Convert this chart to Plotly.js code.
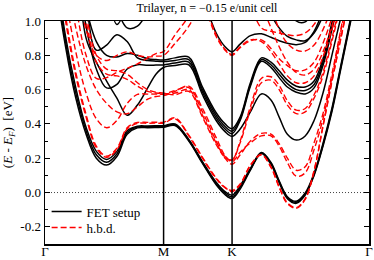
<!DOCTYPE html>
<html><head><meta charset="utf-8">
<script src="https://cdn.plot.ly/plotly-3.0.1.min.js"></script>
<style>html,body{margin:0;padding:0;background:#fff}#chart{width:374px;height:260px}</style>
</head><body><div id="chart"></div>
<script>
// k-path (Γ=0, M=1.732, K=2.732, Γ=4.732)
const kPath = [0,0.15,0.3,0.45,0.6,0.75,0.9,1.05,1.2,1.35,1.5,1.62,1.732,
  1.9,2.1,2.3,2.5,2.63,2.732,
  2.85,3.0,3.16,3.3,3.42,3.54,3.67,3.8,3.93,4.06,4.19,4.32,4.45,4.58,4.732];
const symPoints = [0, 1.732, 2.732, 4.732];
const symLabels = ['Γ','M','K','Γ'];
const yTickVals = [-0.2,0,0.2,0.4,0.6,0.8,1.0];
const yTickText = ['-0.2','0.0','0.2','0.4','0.6','0.8','1.0'];
const yMinorVals = [-0.3,-0.1,0.1,0.3,0.5,0.7,0.9];
const fermiLevel = 0;

// FET setup bands (eV)
const fetB1 = [1.9,1.25,0.85,0.55,0.34,0.2,0.16,0.21,0.34,0.377,0.378,0.379,0.38, 0.39,0.3,0.17,0.045,-0.012,-0.035, 0.02,0.13,0.228,0.165,0.058,-0.036,-0.063,-0.015,0.1,0.27,0.47,0.72,0.97,1.22,1.5];
const fetB2 = [1.95,1.3,0.88,0.58,0.36,0.22,0.177,0.225,0.35,0.382,0.383,0.384,0.385, 0.395,0.305,0.175,0.052,-0.004,-0.025, 0.03,0.135,0.23,0.17,0.063,-0.03,-0.057,-0.01,0.105,0.278,0.48,0.73,0.98,1.23,1.5];
const fetB3 = [2.0,1.35,0.91,0.61,0.38,0.24,0.193,0.24,0.36,0.387,0.388,0.389,0.39, 0.4,0.31,0.18,0.06,0.005,-0.015, 0.04,0.14,0.233,0.175,0.068,-0.024,-0.051,-0.003,0.112,0.286,0.49,0.74,0.99,1.24,1.5];
const fetU1 = [null,null,null,1.5,0.9,0.76,0.65,0.55,0.45,0.51,0.61,0.69,0.729, 0.74,0.745,0.57,0.42,0.355,0.328, 0.37,0.47,0.575,0.54,0.44,0.34,0.306,0.33,0.42,0.58,0.8,1.02,1.25,1.5,1.8];
const fetU2 = [null,null,null,1.35,0.97,0.72,0.61,0.63,0.72,0.745,0.742,0.743,0.744, 0.755,0.76,0.585,0.435,0.37,0.343, 0.42,0.62,0.765,0.73,0.67,0.615,0.585,0.575,0.61,0.74,0.95,1.17,1.4,1.65,1.9];
const fetU3 = [null,null,null,1.6,1.12,0.83,0.86,0.92,0.88,0.785,0.77,0.766,0.764, 0.77,0.775,0.6,0.45,0.385,0.358, 0.43,0.63,0.775,0.745,0.69,0.635,0.6,0.595,0.63,0.76,0.97,1.19,1.42,1.67,1.9];
const fetU4 = [null,null,null,1.45,1.08,0.88,0.8,0.79,0.81,0.8,0.78,0.775,0.773, 0.785,0.79,0.615,0.465,0.4,0.372, 0.44,0.64,0.785,0.76,0.71,0.655,0.62,0.615,0.65,0.78,0.99,1.21,1.44,1.69,1.9];
const fetT1 = [null,null,null,null,null,null,null,null,null,null,null,null,null, null,null,1.15,0.93,0.85,0.82, 0.865,0.915,0.925,0.905,0.885,0.87,0.862,0.875,0.94,1.06,1.2,null,null,null,null];
const fetT2 = [null,null,null,null,null,null,null,null,null,null,null,null,null, null,null,null,null,null,null, null,null,1.2,1.04,0.96,0.91,0.89,0.885,0.93,1.03,1.15,null,null,null,null];
const fetT3 = [null,null,null,null,null,null,null,null,null,null,null,null,null, null,null,null,null,null,null, null,null,null,null,null,1.1,1.0,0.995,1.08,null,null,null,null,null,null];
const fetS1 = [null,null,null,null,null,null,1.25,0.98,1.1,null,null,null,null, null,null,null,null,null,null, null,null,null,null,null,null,null,null,null,null,null,null,null,null,null];
const fetS2 = [null,null,null,null,null,null,null,1.08,0.96,0.97,1.06,null,null, null,null,null,null,null,null, null,null,null,null,null,null,null,null,null,null,null,null,null,null,null];

// h.b.d. bands (eV)
const hbdR1 = [2.0,1.4,1.0,0.68,0.44,0.26,0.205,0.25,0.37,0.403,0.404,0.405,0.405, 0.43,0.33,0.2,0.08,0.028,0.012, 0.05,0.16,0.222,0.15,0.035,-0.06,-0.088,-0.035,0.13,0.39,0.65,0.9,1.15,1.4,1.7];
const hbdR2 = [2.05,1.45,1.03,0.7,0.455,0.27,0.212,0.258,0.378,0.408,0.409,0.41,0.41, 0.435,0.335,0.205,0.085,0.03,0.005, 0.045,0.158,0.22,0.146,0.03,-0.065,-0.092,-0.04,0.125,0.385,0.645,0.895,1.145,1.4,1.7];
const hbdR4 = [null,1.7,1.15,0.82,0.58,0.43,0.378,0.42,0.52,0.572,0.574,0.574,0.574, 0.595,0.612,0.47,0.3,0.2,0.165, 0.22,0.3,0.345,0.34,0.285,0.2,0.13,0.15,0.29,0.46,0.69,0.95,1.22,1.5,1.8];
const hbdR5 = [null,null,1.3,0.96,0.74,0.6,0.52,0.47,0.46,0.5,0.545,0.56,0.565, 0.59,0.62,0.49,0.32,0.215,0.18, 0.235,0.29,0.33,0.33,0.27,0.175,0.095,0.115,0.25,0.43,0.67,0.94,1.2,1.5,1.8];
const hbdR9 = [null,null,null,1.4,1.0,0.76,0.69,0.68,0.66,0.62,0.59,0.58,0.576, 0.58,0.6,0.45,0.29,0.21,0.19, 0.29,0.48,0.64,0.655,0.6,0.51,0.46,0.47,0.55,0.68,0.88,1.1,1.35,1.6,1.9];
const hbdR10 = [null,null,null,1.5,1.05,0.8,0.72,0.71,0.69,0.64,0.6,0.585,0.58, 0.57,0.59,0.44,0.28,0.205,0.19, 0.3,0.5,0.665,0.675,0.625,0.535,0.48,0.49,0.57,0.7,0.9,1.12,1.37,1.62,1.9];
const hbdR6 = [null,null,1.6,1.1,0.8,0.665,0.67,0.7,0.725,0.75,0.785,0.81,0.822, 0.92,1.03,1.2,null,null,null, null,null,null,null,null,null,null,null,null,null,null,null,null,null,null];
const hbdR7 = [null,null,null,1.25,0.95,0.8,0.77,0.8,0.82,0.8,0.79,0.795,0.8, 0.87,0.97,1.12,null,null,null, null,null,null,null,null,null,null,null,null,null,null,null,null,null,null];
const hbdT1 = [null,null,null,null,null,null,null,null,null,null,null,null,null, null,null,1.13,0.91,0.83,0.8, 0.845,0.885,0.89,0.84,0.78,0.74,0.71,0.715,0.76,0.87,1.02,1.2,null,null,null];
const hbdT4 = [null,null,null,null,null,null,null,null,null,null,null,null,null, null,null,1.14,0.92,0.835,0.805, 0.85,0.89,0.88,0.82,0.75,0.68,0.64,0.64,0.68,0.79,0.95,1.12,null,null,null];
const hbdT2 = [null,null,null,null,null,null,null,null,null,null,null,null,null, null,null,null,null,null,null, null,null,1.1,0.96,0.85,0.76,0.7,0.685,0.72,0.82,0.97,1.15,null,null,null];
const hbdT3 = [null,null,null,null,null,null,null,null,null,null,null,null,null, null,null,null,null,null,null, null,null,null,1.1,0.95,0.87,0.83,0.825,0.86,0.95,1.08,null,null,null,null];
const hbdT5 = [null,null,null,null,null,null,null,null,null,null,null,null,null, null,null,null,null,null,null, null,1.1,0.96,0.94,0.93,0.92,0.915,0.93,0.98,1.08,null,null,null,null,null];

const fetBands = [fetB1,fetB2,fetB3,fetU1,fetU2,fetU3,fetU4,fetT1,fetT2,fetT3,fetS1,fetS2];
const hbdBands = [hbdR1,hbdR2,hbdR4,hbdR5,hbdR9,hbdR10,hbdR6,hbdR7,hbdT1,hbdT4,hbdT2,hbdT3,hbdT5];

const traces = [];
fetBands.forEach((b, i) => traces.push({
  x: kPath, y: b, type: 'scatter', mode: 'lines', name: 'FET setup', legend: 'legend',
  legendgroup: 'fet', showlegend: i === 0, connectgaps: false, hoverinfo: 'skip',
  line: {color: '#000000', width: 1.5, shape: 'spline', smoothing: 1}
}));
hbdBands.forEach((b, i) => traces.push({
  x: kPath, y: b, type: 'scatter', mode: 'lines', name: 'h.b.d.', legend: 'legend2',
  legendgroup: 'hbd', showlegend: i === 0, connectgaps: false, hoverinfo: 'skip',
  line: {color: '#ff0000', width: 1.4, dash: '6px,3px', shape: 'spline', smoothing: 1}
}));

const serif = "'Liberation Serif', 'Times New Roman', serif";
const legendFont = {family: serif, size: 13, color: '#000'};
const layout = {
  width: 374, height: 260,
  margin: {l: 45, r: 5, t: 21, b: 16},
  paper_bgcolor: '#ffffff', plot_bgcolor: '#ffffff',
  font: {family: serif, size: 13, color: '#000'},
  title: {text: 'Trilayer, n = \u22120.15 e/unit cell', font: {family: serif, size: 12, color: '#000'},
          x: 0.5, xref: 'paper', y: 1 - 8/260, yref: 'container', yanchor: 'middle'},
  showlegend: true,
  legend: {x: 0.005, y: 0.213, xanchor: 'left', yanchor: 'top', bgcolor: 'rgba(0,0,0,0)', font: legendFont},
  legend2: {x: 0.005, y: 0.141, xanchor: 'left', yanchor: 'top', bgcolor: 'rgba(0,0,0,0)', font: legendFont},
  xaxis: {range: [symPoints[0], symPoints[3]], tickmode: 'array', tickvals: symPoints, ticktext: symLabels,
          ticks: '', showgrid: false, zeroline: false, showline: true, mirror: true, ticklabelstandoff: -5,
          linecolor: '#000', linewidth: 1.5, tickfont: {family: serif, size: 13, color: '#000'}},
  yaxis: {range: [-0.3, 1.0], tickmode: 'array', tickvals: yTickVals, ticktext: yTickText,
          ticks: 'inside', ticklen: 5, tickwidth: 1, tickcolor: '#000',
          minor: {tickmode: 'array', tickvals: yMinorVals, ticks: 'inside', ticklen: 3, tickwidth: 1, tickcolor: '#000', showgrid: false},
          showgrid: false, zeroline: false, showline: true, mirror: 'allticks',
          linecolor: '#000', linewidth: 1.5, tickfont: {family: serif, size: 13, color: '#000'},
          title: {text: '(<i>E</i> - <i>E</i><sub><i>F</i></sub>)\u00a0\u00a0[eV]', font: {family: serif, size: 13, color: '#000'}, standoff: 6}},
  shapes: [
    {type: 'line', xref: 'x', yref: 'paper', x0: symPoints[1], x1: symPoints[1], y0: 0, y1: 1, line: {color: '#000', width: 1.5}, layer: 'above'},
    {type: 'line', xref: 'x', yref: 'paper', x0: symPoints[2], x1: symPoints[2], y0: 0, y1: 1, line: {color: '#000', width: 1.5}, layer: 'above'},
    {type: 'line', xref: 'paper', yref: 'y', x0: 0, x1: 1, y0: fermiLevel, y1: fermiLevel, line: {color: '#444', width: 1, dash: '1px,2px'}, layer: 'below'}
  ]
};
Plotly.newPlot('chart', traces, layout, {staticPlot: true, displayModeBar: false});
</script></body></html>
